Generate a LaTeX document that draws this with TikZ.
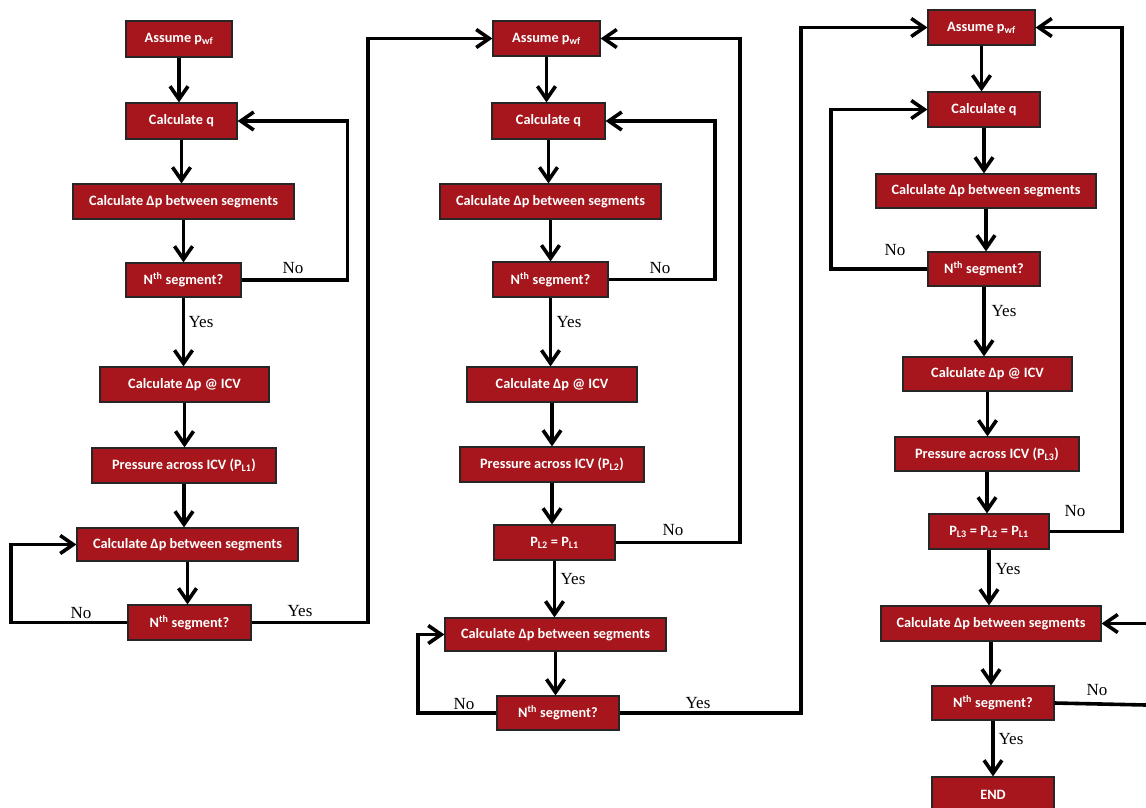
\documentclass[tikz,border=0pt]{standalone}
\usepackage{fontspec}
\usetikzlibrary{arrows.meta}
\newfontfamily\boxfont{Carlito}
\newfontfamily\lblfont{Liberation Serif}
\definecolor{boxred}{RGB}{166,22,28}
\tikzset{
  fbox/.style={rectangle, fill=boxred, draw=black!85, line width=1.2pt, text=white,
    font=\boxfont\bfseries\fontsize{14.3}{16}\selectfont, inner sep=0pt},
  lbl/.style={font=\lblfont\fontsize{17}{19}\selectfont, inner sep=0pt},
  arr/.style={line width=3.6pt, line join=miter, -{Straight Barb[length=13pt,width=18pt]}},
  ln/.style={line width=3.6pt, line join=miter}
}
\begin{document}
\begin{tikzpicture}[x=1pt,y=-1pt]
\useasboundingbox (0,0) rectangle (1146,807);
% ---------- column 1 ----------
\node[fbox, minimum width=106pt, minimum height=36pt] (a1) at (179,39) {Assume p\textsubscript{wf}};
\node[fbox, minimum width=111pt, minimum height=36pt] (q1) at (181.5,121) {Calculate q};
\node[fbox, minimum width=221pt, minimum height=35pt] (d1) at (183.5,201.5) {Calculate Δp between segments};
\node[fbox, minimum width=115pt, minimum height=34pt] (n1) at (183.5,280) {N\textsuperscript{th} segment?};
\node[fbox, minimum width=169pt, minimum height=35pt] (i1) at (184.5,384.5) {Calculate Δp @ ICV};
\node[fbox, minimum width=184pt, minimum height=35pt] (p1) at (184,465.5) {Pressure across ICV (P\textsubscript{L1})};
\node[fbox, minimum width=221pt, minimum height=33pt] (e1) at (187.5,544.5) {Calculate Δp between segments};
\node[fbox, minimum width=123pt, minimum height=35pt] (m1) at (189.5,622.5) {N\textsuperscript{th} segment?};
% ---------- column 2 ----------
\node[fbox, minimum width=107pt, minimum height=35pt] (a2) at (546.5,38.5) {Assume p\textsubscript{wf}};
\node[fbox, minimum width=113pt, minimum height=36pt] (q2) at (548.5,121) {Calculate q};
\node[fbox, minimum width=221pt, minimum height=35pt] (d2) at (550.5,201.5) {Calculate Δp between segments};
\node[fbox, minimum width=115pt, minimum height=35pt] (n2) at (550.5,279.5) {N\textsuperscript{th} segment?};
\node[fbox, minimum width=170pt, minimum height=35pt] (i2) at (552,384.5) {Calculate Δp @ ICV};
\node[fbox, minimum width=184pt, minimum height=35pt] (p2) at (552,464.5) {Pressure across ICV (P\textsubscript{L2})};
\node[fbox, minimum width=121pt, minimum height=35pt] (c2) at (554.5,542.5) {P\textsubscript{L2} = P\textsubscript{L1}};
\node[fbox, minimum width=221pt, minimum height=33pt] (e2) at (555.5,634.5) {Calculate Δp between segments};
\node[fbox, minimum width=122pt, minimum height=34pt] (m2) at (558,713) {N\textsuperscript{th} segment?};
% ---------- column 3 ----------
\node[fbox, minimum width=107pt, minimum height=35pt] (a3) at (981.5,27.5) {Assume p\textsubscript{wf}};
\node[fbox, minimum width=112pt, minimum height=35pt] (q3) at (984,109.5) {Calculate q};
\node[fbox, minimum width=220pt, minimum height=34pt] (d3) at (986,191) {Calculate Δp between segments};
\node[fbox, minimum width=112pt, minimum height=34pt] (n3) at (984,269) {N\textsuperscript{th} segment?};
\node[fbox, minimum width=169pt, minimum height=34pt] (i3) at (987.5,374) {Calculate Δp @ ICV};
\node[fbox, minimum width=184pt, minimum height=34pt] (p3) at (987,454) {Pressure across ICV (P\textsubscript{L3})};
\node[fbox, minimum width=120pt, minimum height=35pt] (c3) at (989,531.5) {P\textsubscript{L3} = P\textsubscript{L2} = P\textsubscript{L1}};
\node[fbox, minimum width=220pt, minimum height=35pt] (e3) at (991,623.5) {Calculate Δp between segments};
\node[fbox, minimum width=122pt, minimum height=34pt] (m3) at (993,703) {N\textsuperscript{th} segment?};
\node[fbox, minimum width=122pt, minimum height=36pt] (end) at (993,795) {END};
% ---------- vertical arrows ----------
\foreach \s/\t in {a1/q1,q1/d1,d1/n1,n1/i1,i1/p1,p1/e1,e1/m1,
                   a2/q2,q2/d2,d2/n2,n2/i2,i2/p2,p2/c2,c2/e2,e2/m2,
                   a3/q3,q3/d3,d3/n3,n3/i3,i3/p3,p3/c3,c3/e3,e3/m3,m3/end}
  \draw[arr] (\s.south) -- (\s.south |- \t.north);
% ---------- loops column 1 ----------
\draw[arr] (n1.east) -- ++(106,0) |- (q1.east);
\draw[arr] (m1.west) -- (11,622.5) |- (e1.west);
\draw[arr] (m1.east) -- (368,622.5) |- (a2.west);
% ---------- loops column 2 ----------
\draw[arr] (n2.east) -- (715,279.5) |- (q2.east);
\draw[arr] (c2.east) -- (740,542.5) |- (a2.east);
\draw[arr] (m2.west) -- (418,713) |- (e2.west);
\draw[arr] (m2.east) -- (801,713) |- (a3.west);
% ---------- loops column 3 ----------
\draw[arr] (n3.west) -- (831,269) |- (q3.west);
\draw[arr] (c3.east) -- (1122,531.5) |- (a3.east);
\coordinate (rin) at (1146,623.5);
\coordinate (rout) at (1146,705);
\draw[arr] (rin) -- (e3.east);
\draw[ln] (m3.east) -- (rout);
% ---------- labels ----------
\node[lbl] (l1) at (293,268) {No};
\node[lbl] (l2) at (201,322) {Yes};
\node[lbl] (l3) at (81,613) {No};
\node[lbl] (l4) at (300,611) {Yes};
\node[lbl] (l5) at (660,268) {No};
\node[lbl] (l6) at (569,322) {Yes};
\node[lbl] (l7) at (673,530) {No};
\node[lbl] (l8) at (573,579) {Yes};
\node[lbl] (l9) at (464,704) {No};
\node[lbl] (l10) at (698,703) {Yes};
\node[lbl] (l11) at (895,250) {No};
\node[lbl] (l12) at (1004,311) {Yes};
\node[lbl] (l13) at (1075,511) {No};
\node[lbl] (l14) at (1008,569) {Yes};
\node[lbl] (l15) at (1097,690) {No};
\node[lbl] (l16) at (1011,739) {Yes};
\end{tikzpicture}
\end{document}
